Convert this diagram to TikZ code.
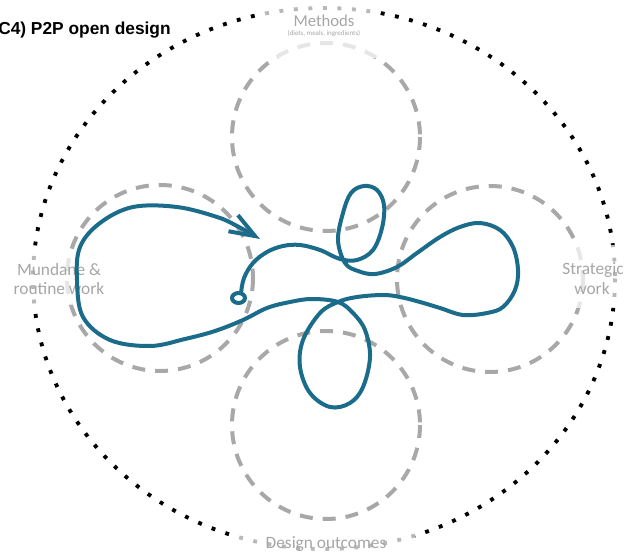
\documentclass[tikz,border=0pt]{standalone}
\usepackage{fontspec}
\setmainfont{Carlito}
\newfontfamily\titlefont{Liberation Sans}
\usetikzlibrary{arrows.meta}
\definecolor{curveblue}{RGB}{27,108,138}
\definecolor{dashgray}{RGB}{168,168,168}
\definecolor{labelgray}{RGB}{166,166,166}
\begin{document}
\begin{tikzpicture}[x=0.75pt,y=-0.75pt,
  dotring/.style={line width=2.9pt, dash pattern=on 2.9pt off 8pt, black},
  dashring/.style={line width=3pt, dash pattern=on 9.75pt off 7.5pt, dashgray},
  fadebox/.style={fill=white, fill opacity=0.72},
  lbl/.style={text=labelgray, font=\fontsize{13}{15}\selectfont, inner sep=0pt, anchor=base},
  pathline/.style={curveblue, line width=3pt, line cap=round, line join=round}]
\useasboundingbox (0,0) rectangle (627,555);
% outer dotted ring
\draw[dotring] (324,278.5) ellipse [x radius=291, y radius=270.5];
% dashed circles
\draw[dashring] (326,137) circle [radius=94];
\draw[dashring] (160,278) circle [radius=93];
\draw[dashring] (490,279) circle [radius=93];
\draw[dashring] (326,425) circle [radius=94];
% fading boxes behind labels
\fill[fadebox] (265,3) rectangle (378,58);
\fill[fadebox] (10,252) rectangle (108,305);
\fill[fadebox] (560,245) rectangle (627,308);
\fill[fadebox] (232,527) rectangle (415,555);
% labels
\node[lbl, font=\fontsize{12.5}{14}\selectfont] (methods) at (324,27) {Methods};
\node[lbl, font=\fontsize{5.2}{6}\selectfont] (methodssub) at (324,35.5) {(diets, meals, ingredients)};
\node[lbl] (mundaneA) at (59,276) {Mundane \&};
\node[lbl] (mundaneB) at (59,295) {routine work};
\node[lbl] (strategicA) at (593,275) {Strategic};
\node[lbl] (strategicB) at (592,295) {work};
\node[lbl] (design) at (326,548) {Design outcomes};
\node[font=\titlefont\bfseries\fontsize{13}{15}\selectfont, anchor=base west, inner sep=0pt] (title) at (-2,35) {C4) P2P open design};
% blue hand-drawn path
\draw[pathline] (238.5,298) ellipse [x radius=6.5, y radius=5];
\draw[pathline, -{Straight Barb[length=19pt,width=14pt]}] plot[smooth, tension=0.6] coordinates {
 (241,293) (244,278) (253,263) (267,252) (283,246) (300,245) (320,250) (340,259) (357,260)
 (373,250) (382,228) (384,205) (377,190) (364,186) (351,193) (343,213) (338,240) (345,263)
 (358,271) (375,274) (397,267) (417,253) (440,237) (460,227) (480,223) (500,230) (513,247)
 (518,270) (515,290) (503,307) (487,313) (463,315) (440,308) (420,302) (400,297) (383,295)
 (357,297) (338,302) (320,313) (303,340) (300,367) (310,393) (330,407) (350,403) (363,387)
 (370,357) (365,330) (353,313) (338,302) (312,299) (290,302) (267,308) (243,320) (215,331)
 (185,339) (150,346) (110,340) (83,317) (77,280) (80,247) (100,223) (133,207) (177,207)
 (217,217) (237,226) (260,239)};
\end{tikzpicture}
\end{document}
